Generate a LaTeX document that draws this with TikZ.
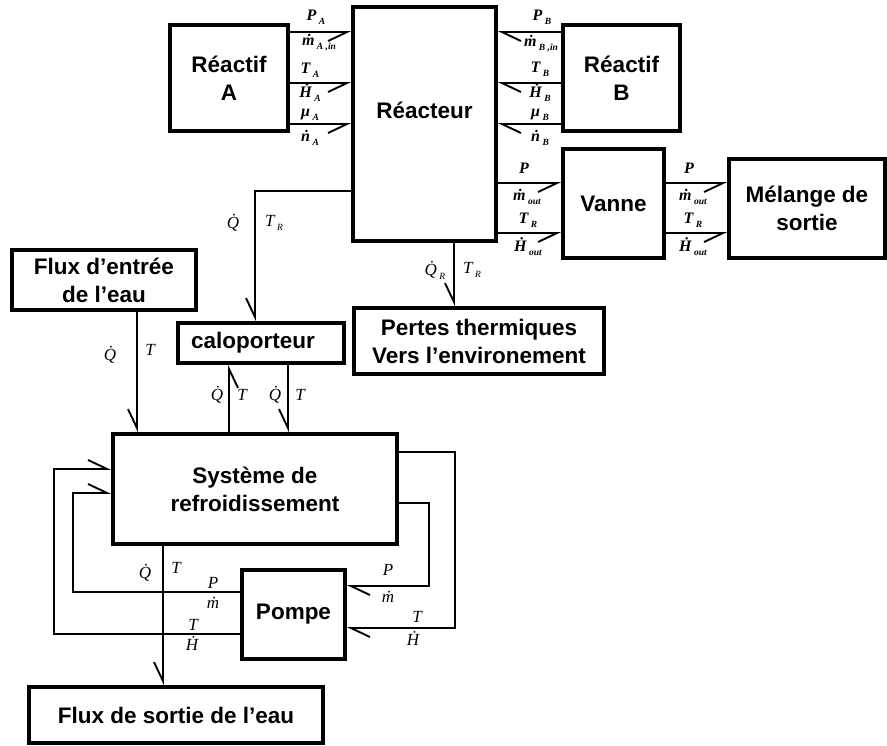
\documentclass[tikz,border=0pt]{standalone}
\usepackage{fontspec}
\setmainfont{Liberation Sans}
\newfontfamily\lblfont{Liberation Serif}
\usetikzlibrary{arrows.meta}
\newcommand\sub[1]{\kern2.5pt\raisebox{-4pt}{\fontsize{9.5}{9.5}\selectfont #1}}
\newcommand\bxfont{\fontsize{22.5}{28}\selectfont\bfseries}
\tikzset{
  box/.style={draw, line width=3.4pt, inner sep=0pt, align=center, font=\bxfont},
  con/.style={line width=1.9pt, line join=miter, -{Straight Barb[right,length=19pt,width=18pt]}},
  conl/.style={line width=1.9pt, line join=miter, -{Straight Barb[left,length=19pt,width=18pt]}},
  lab/.style={inner sep=0pt, font=\lblfont\itshape\fontsize{17}{17}\selectfont},
  labb/.style={inner sep=0pt, font=\lblfont\itshape\bfseries\fontsize{16}{16}\selectfont},
  every label/.style={font=\bxfont}
}
\begin{document}
\begin{tikzpicture}[x=1pt,y=-1pt]
\useasboundingbox (0,0) rectangle (887,745);
% boxes
\node[box, minimum width=118pt, minimum height=106pt] (ra) at (229,78) {Réactif\\A};
\node[box, minimum width=143pt, minimum height=234pt, label={[yshift=14pt]center:Réacteur}] (rc) at (424.5,124) {};
\node[box, minimum width=117pt, minimum height=106pt] (rb) at (621.5,78) {Réactif\\B};
\node[box, minimum width=101pt, minimum height=109pt] (va) at (613.5,203.5) {Vanne};
\node[box, minimum width=156pt, minimum height=99pt] (me) at (807,208.5) {Mélange de\\sortie};
\node[box, minimum width=250pt, minimum height=66pt] (pe) at (479,341) {Pertes thermiques\\Vers l’environement};
\node[box, minimum width=184pt, minimum height=60pt] (fe) at (104,280) {Flux d’entrée\\de l’eau};
\node[box, minimum width=166pt, minimum height=40pt] (ca) at (261,343) {caloporteur\hspace*{16pt}};
\node[box, minimum width=284pt, minimum height=110pt] (sy) at (255,489) {Système de\\refroidissement};
\node[box, minimum width=103pt, minimum height=89pt] (po) at (293.5,614.5) {Pompe};
\node[box, minimum width=294pt, minimum height=56pt] (fs) at (176,715) {Flux de sortie de l’eau};
% connectors
\draw[con] (ra.east |- 0,32) -- (rc.west |- 0,32);
\draw[con] (ra.east |- 0,83) -- (rc.west |- 0,83);
\draw[con] (ra.east |- 0,124) -- (rc.west |- 0,124);
\draw[conl] (rb.west |- 0,32) -- (rc.east |- 0,32);
\draw[conl] (rb.west |- 0,83) -- (rc.east |- 0,83);
\draw[conl] (rb.west |- 0,124) -- (rc.east |- 0,124);
\draw[con] (rc.east |- 0,183) -- (va.west |- 0,183);
\draw[con] (rc.east |- 0,233) -- (va.west |- 0,233);
\draw[con] (va.east |- 0,183) -- (me.west |- 0,183);
\draw[con] (va.east |- 0,233) -- (me.west |- 0,233);
\draw[con] (rc.west |- 0,191) -- (255,191) -- (ca.north -| 255,0);
\draw[con] (rc.south -| 454,0) -- (pe.north -| 454,0);
\draw[con] (fe.south -| 137,0) -- (sy.north -| 137,0);
\draw[con] (sy.north -| 229,0) -- (ca.south -| 229,0);
\draw[con] (ca.south -| 288,0) -- (sy.north -| 288,0);
\draw[con] (sy.south -| 163,0) -- (fs.north -| 163,0);
\draw[conl] (po.west |- 0,592) -- (73,592) -- (73,493) -- (sy.west |- 0,493);
\draw[conl] (po.west |- 0,634) -- (54,634) -- (54,469) -- (sy.west |- 0,469);
\draw[conl] (sy.east |- 0,452) -- (455,452) -- (455,628) -- (po.east |- 0,628);
\draw[conl] (sy.east |- 0,503) -- (429,503) -- (429,586) -- (po.east |- 0,586);
% labels top-left
\node[labb] (la1) at (316,17) {P\sub{A}};
\node[labb] (la2) at (319,43) {\.m\sub{A ,in}};
\node[labb] (la3) at (310,70) {T\sub{A}};
\node[labb] (la4) at (310,93) {\.H\sub{A}};
\node[labb] (la5) at (310,115) {μ\sub{A}};
\node[labb] (la6) at (310,138) {\.n\sub{A}};
% labels B
\node[labb] (lb1) at (542,17) {P\sub{B}};
\node[labb] (lb2) at (541,44) {\.m\sub{B ,in}};
\node[labb] (lb3) at (540,69) {T\sub{B}};
\node[labb] (lb4) at (540,93) {\.H\sub{B}};
\node[labb] (lb5) at (540,115) {μ\sub{B}};
\node[labb] (lb6) at (540,138) {\.n\sub{B}};
% labels Vanne
\node[labb] (lv1) at (524,168) {P};
\node[labb] (lv2) at (527,197) {\.m\sub{out}};
\node[labb] (lv3) at (528,220) {T\sub{R}};
\node[labb] (lv4) at (528,247) {\.H\sub{out}};
\node[labb] (lv5) at (689,168) {P};
\node[labb] (lv6) at (693,197) {\.m\sub{out}};
\node[labb] (lv7) at (693,220) {T\sub{R}};
\node[labb] (lv8) at (693,247) {\.H\sub{out}};
% other labels
\node[lab] (lq1) at (233,223) {\.Q};
\node[lab] (lq2) at (274,223) {T\sub{R}};
\node[lab] (lq3) at (435,270) {\.Q\sub{R}};
\node[lab] (lq4) at (472,270) {T\sub{R}};
\node[lab] (lq5) at (110,355) {\.Q};
\node[lab] (lq6) at (150,350) {T};
\node[lab] (lq7) at (217,395) {\.Q};
\node[lab] (lq8) at (242,395) {T};
\node[lab] (lq9) at (275,395) {\.Q};
\node[lab] (lq10) at (300,395) {T};
\node[lab] (lq11) at (145,573) {\.Q};
\node[lab] (lq12) at (176,568) {T};
\node[lab] (lp1) at (213,583) {P};
\node[lab] (lp2) at (213,603) {\.m};
\node[lab] (lp3) at (193,625) {T};
\node[lab] (lp4) at (192,643) {\.H};
\node[lab] (lp5) at (388,570) {P};
\node[lab] (lp6) at (388,597) {\.m};
\node[lab] (lp7) at (417,617) {T};
\node[lab] (lp8) at (413,638) {\.H};
\end{tikzpicture}
\end{document}
